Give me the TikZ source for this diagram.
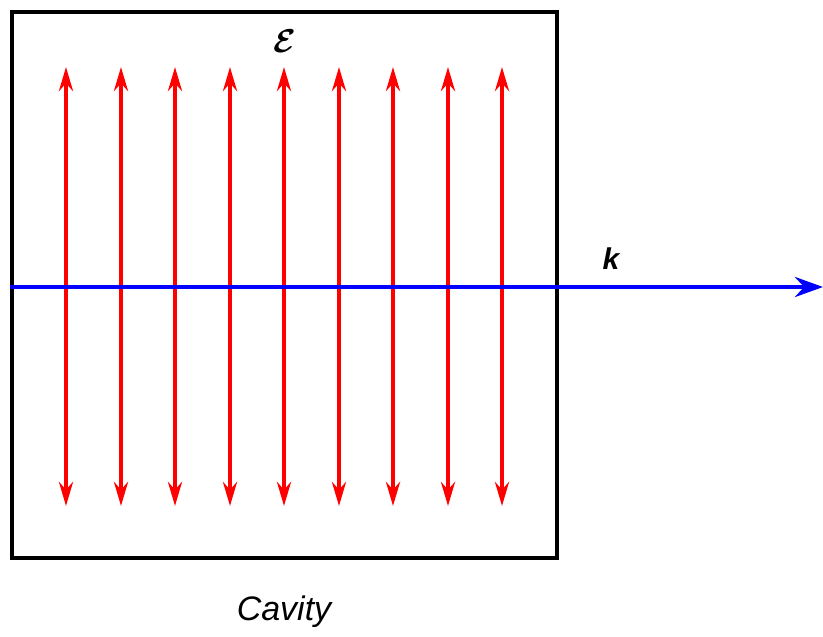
\documentclass[tikz,border=0pt]{standalone}
\usepackage{amsmath,amssymb}
\usepackage{fontspec}
\setmainfont{Liberation Sans}
\usepackage{tikz}
\usetikzlibrary{arrows.meta,positioning}

\begin{document}
\begin{tikzpicture}[x=1pt, y=-1pt,
  cavbox/.style={draw, line width=4pt, minimum width=545pt, minimum height=546pt, inner sep=0pt},
  field/.style={{Stealth[length=24pt, width=14pt]}-{Stealth[length=24pt, width=14pt]}, red, line width=4pt},
  wave/.style={-{Stealth[length=28pt, width=20pt]}, blue, line width=4.5pt},
  lbl/.style={font=\fontsize{34}{40}\selectfont\itshape},
]
\useasboundingbox (0,0) rectangle (823,637);
\node[cavbox] (cav) at (284.5,285) {};
\foreach \x/\n in {66/1,121/2,175/3,230/4,284/5,339/6,393/7,448/8,502/9}{
  \coordinate (t\n) at (\x,67);
  \coordinate (b\n) at (\x,506);
  \draw[field] (t\n) -- (b\n);
}
\coordinate (kin) at (10,287);
\coordinate (kout) at (823,287);
\draw[wave] (kin) -- (kout);
\node (eps) at (285,41) {\scalebox{3.3}{$\boldsymbol{\mathcal{E}}$}};
\node[font=\fontsize{30}{36}\selectfont\bfseries\itshape] (k) at (611,259) {k};
\node[lbl] (cavlbl) at (284,612) {Cavity};
\end{tikzpicture}
\end{document}
